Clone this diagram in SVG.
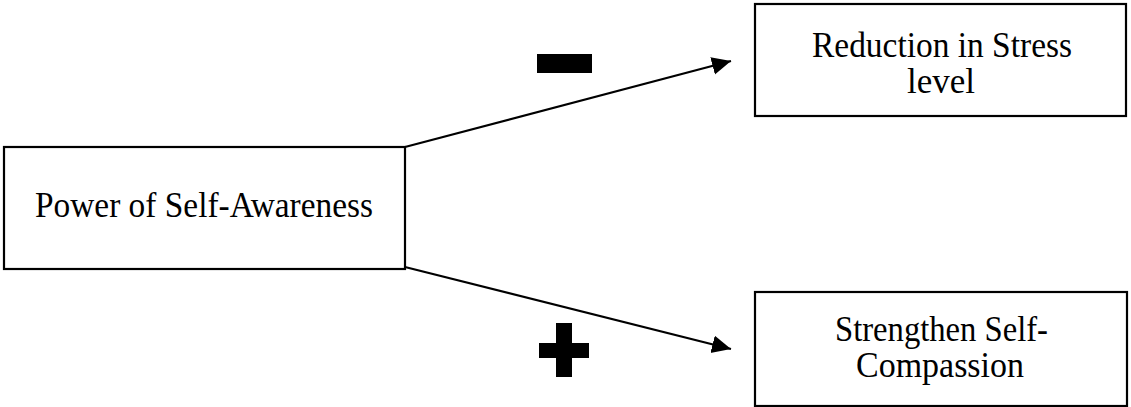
<svg xmlns="http://www.w3.org/2000/svg" width="1131" height="407" viewBox="0 0 1131 407">
<style>
.box{fill:#fff;stroke:#000;stroke-width:2.2}
.t{font-family:"Liberation Serif","Times New Roman",serif;fill:#000}
.c{stroke:#000;stroke-width:2.2;fill:none}
</style>
<defs>
<marker id="ah" markerUnits="userSpaceOnUse" markerWidth="20" markerHeight="20" refX="19" refY="9" orient="auto">
<path d="M0,0 L19,9 L0,18 Z" fill="#000"/>
</marker>
</defs>
<rect width="1131" height="407" fill="#fff"/>
<g id="connectors">
<line class="c" x1="405" y1="147" x2="731" y2="61" marker-end="url(#ah)"/>
<line class="c" x1="405" y1="267" x2="731" y2="349" marker-end="url(#ah)"/>
<rect id="minus" x="537" y="54" width="55" height="19" fill="#000"/>
<g id="plus" fill="#000">
<rect x="539" y="343" width="50" height="15"/>
<rect x="556" y="323" width="16" height="54"/>
</g>
</g>
<g id="awareness">
<rect class="box" x="4" y="147" width="401" height="122"/>
<text class="t" x="35" y="217" font-size="36" textLength="338" lengthAdjust="spacingAndGlyphs">Power of Self-Awareness</text>
</g>
<g id="stress">
<rect class="box" x="755" y="4" width="371" height="112"/>
<text class="t" x="812" y="57" font-size="35" textLength="260" lengthAdjust="spacingAndGlyphs">Reduction in Stress</text>
<text class="t" x="941" y="93" font-size="35" text-anchor="middle">level</text>
</g>
<g id="compassion">
<rect class="box" x="755" y="292" width="372" height="114"/>
<text class="t" x="835" y="341" font-size="35" textLength="213" lengthAdjust="spacingAndGlyphs">Strengthen Self-</text>
<text class="t" x="856" y="377" font-size="35" textLength="168" lengthAdjust="spacingAndGlyphs">Compassion</text>
</g>
</svg>
